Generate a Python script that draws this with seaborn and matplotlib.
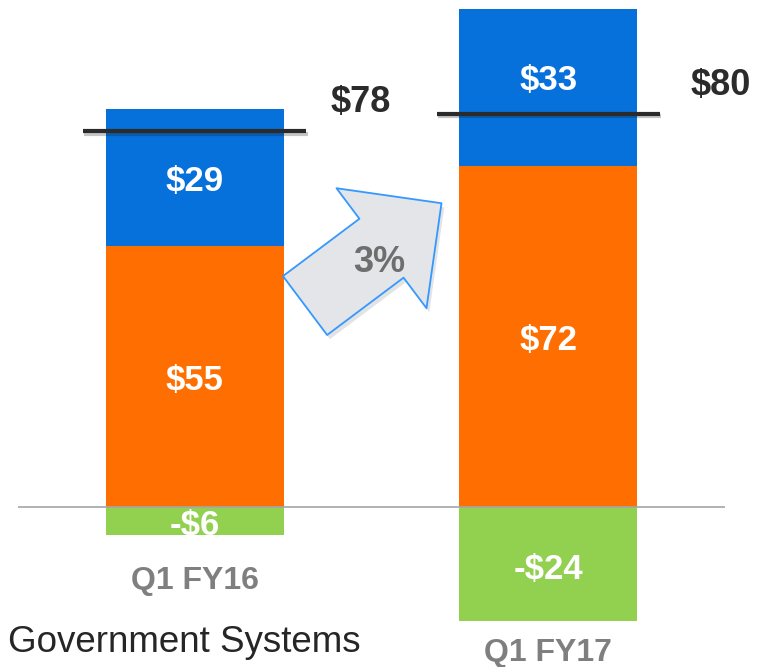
import pandas as pd
import matplotlib.pyplot as plt
import matplotlib.patheffects as pe
from matplotlib.patches import FancyArrowPatch
import seaborn as sns

# Values
periods = ["Q1 FY16", "Q1 FY17"]
orange_vals = [55, 72]
blue_vals = [29, 33]
green_vals = [-6, -24]
net_labels = ["$78", "$80"]
net_line = [79.4, 83.0]  # where the black total marks sit
growth_label = "3%"
segment_name = "Government Systems"

BLUE = "#0670DB"
ORANGE = "#FF6E00"
GREEN = "#92D050"
DARK = "#2B2B2B"
GREY = "#7F7F7F"

sns.set_theme(style="white")
plt.rcParams["font.family"] = ["Liberation Sans", "DejaVu Sans"]

df = pd.DataFrame({
    "period": periods,
    "orange": orange_vals,
    "blue": blue_vals,
    "green": green_vals,
})
df["stack_top"] = df["orange"] + df["blue"]

fig = plt.figure(figsize=(7.65, 6.67), dpi=100)
ax = fig.add_axes([18 / 765, 0, 707 / 765, 1])

bar_w = 0.503
# stacked: draw cumulative blue first, orange on top of it, then the negative green
for col, colour in [("stack_top", BLUE), ("orange", ORANGE), ("green", GREEN)]:
    sns.barplot(data=df, x="period", y=col, color=colour, saturation=1,
                width=bar_w, linewidth=0, ax=ax)

ax.set_xlim(-0.5, 1.5)
ax.set_ylim(-33.8, 107)
ax.axis("off")

# baseline
ax.axhline(0, color="#A6A6A6", lw=1.2, zorder=5)


def seg_label(x, y, s, dy=-3):
    ax.annotate(s, xy=(x, y), xytext=(0, dy), textcoords="offset points",
                ha="center", va="center", color="white", fontsize=25,
                fontweight="bold", zorder=6)


# segment labels
for i, row in df.iterrows():
    seg_label(i, row["orange"] / 2, f"${row['orange']}")
    seg_label(i, row["orange"] + row["blue"] / 2, f"${row['blue']}", dy=-3 if i == 0 else 5)
    seg_label(i, row["green"] / 2, f"-${abs(row['green'])}", dy=-3 if i == 0 else -4)

# total marks and labels
shadow = [pe.SimpleLineShadow(offset=(1, -2), alpha=0.25), pe.Normal()]
for i, (lvl, lab) in enumerate(zip(net_line, net_labels)):
    ax.plot([i - 0.316, i + 0.316], [lvl, lvl], color=DARK, lw=3,
            solid_capstyle="butt", zorder=7, path_effects=shadow)
    ax.annotate(lab, xy=(i + 0.316, lvl), xytext=(17 if i == 0 else 22, 20),
                textcoords="offset points", ha="left", va="center",
                color=DARK, fontsize=26, fontweight="bold")

# period labels below each bar
for i, (p, g) in enumerate(zip(periods, green_vals)):
    off = -33 if i == 0 else -23
    ax.annotate(p, xy=(i, g), xytext=(0, off), textcoords="offset points",
                ha="center", va="center", color=GREY, fontsize=23, fontweight="bold")

# growth arrow between the bars
arrow = FancyArrowPatch((0.312, 42.5), (0.698, 64.1),
                        arrowstyle="simple,head_length=54,head_width=108,tail_width=53",
                        mutation_scale=1, shrinkA=0, shrinkB=0,
                        facecolor="#E3E5E9", edgecolor="#3399FF", lw=1.3, zorder=4,
                        path_effects=[pe.SimplePatchShadow(offset=(2, -3), alpha=0.15), pe.Normal()])
ax.add_patch(arrow)
ax.annotate(growth_label, xy=(0.523, 52.5), xytext=(0, -3), textcoords="offset points",
            ha="center", va="center", color="#6E6E6E",
            fontsize=26, fontweight="bold", zorder=6)

fig.text(8 / 765, 1 - 642 / 667, segment_name, ha="left", va="center",
         color="#262626", fontsize=26.5)

fig.savefig("out.png", dpi=100)
